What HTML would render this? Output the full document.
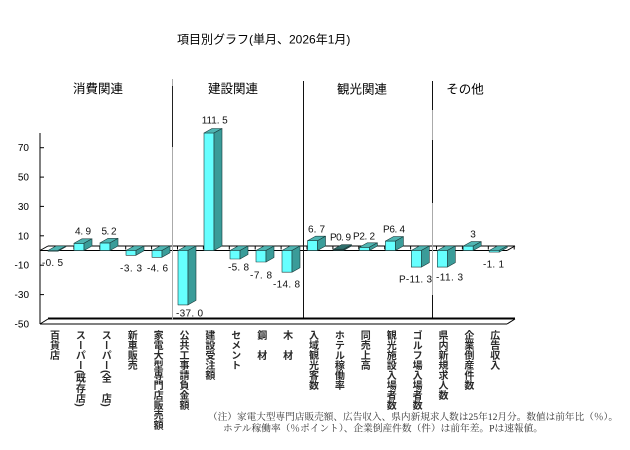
<!DOCTYPE html>
<html>
<head>
<meta charset="utf-8">
<style>
  html,body{margin:0;padding:0;background:#fff;}
  #wrap{position:relative;width:630px;height:450px;overflow:hidden;background:#fff;}
  svg{position:absolute;left:0;top:0;}
  .cat{position:absolute;top:330px;width:10px;writing-mode:vertical-rl;font-family:"Liberation Sans","Noto Sans CJK JP",sans-serif;font-size:10px;line-height:10px;color:#2a2a2a;font-weight:bold;white-space:nowrap;}
</style>
</head>
<body>
<div id="wrap">
<svg width="630" height="450" viewBox="0 0 630 450" xmlns="http://www.w3.org/2000/svg">
  <!-- title -->
  <text x="177" y="43.5" font-family="Liberation Sans, Noto Sans CJK JP, sans-serif" font-size="12" fill="#000">項目別グラフ(単月、2026年1月)</text>

  <!-- section headers -->
  <g font-family="Liberation Sans, Noto Sans CJK JP, sans-serif" font-size="12.5" fill="#000" text-anchor="middle">
    <text x="98" y="93">消費関連</text>
    <text x="233" y="93">建設関連</text>
    <text x="362" y="93.5">観光関連</text>
    <text x="465" y="93.5">その他</text>
  </g>

  <!-- floor -->
  <g stroke="#000" fill="none">
    <line x1="40" y1="324" x2="507" y2="324" stroke-width="1"/>
    <line x1="48" y1="318.5" x2="515" y2="318.5" stroke-width="2"/>
    <line x1="40" y1="324" x2="48" y2="319" stroke-width="1"/>
    <line x1="507" y1="324" x2="515" y2="319" stroke-width="1"/>
  </g>

  <!-- zero plane -->
  <g stroke="#000" fill="none" stroke-width="1">
    <line x1="40" y1="250.5" x2="507" y2="250.5"/>
    <line x1="48" y1="246" x2="515" y2="246"/>
    <line x1="40" y1="250.5" x2="48" y2="246"/>
    <line x1="507" y1="250.5" x2="515" y2="246"/>
  </g>
  <g stroke="#000" stroke-width="1">
    <line x1="73.9" y1="246" x2="73.9" y2="249.5"/>
    <line x1="99.8" y1="246" x2="99.8" y2="249.5"/>
    <line x1="125.7" y1="246" x2="125.7" y2="249.5"/>
    <line x1="151.6" y1="246" x2="151.6" y2="249.5"/>
    <line x1="177.5" y1="246" x2="177.5" y2="249.5"/>
    <line x1="203.4" y1="246" x2="203.4" y2="249.5"/>
    <line x1="229.3" y1="246" x2="229.3" y2="249.5"/>
    <line x1="255.2" y1="246" x2="255.2" y2="249.5"/>
    <line x1="281.1" y1="246" x2="281.1" y2="249.5"/>
    <line x1="307" y1="246" x2="307" y2="249.5"/>
    <line x1="332.9" y1="246" x2="332.9" y2="249.5"/>
    <line x1="358.8" y1="246" x2="358.8" y2="249.5"/>
    <line x1="384.7" y1="246" x2="384.7" y2="249.5"/>
    <line x1="410.6" y1="246" x2="410.6" y2="249.5"/>
    <line x1="436.5" y1="246" x2="436.5" y2="249.5"/>
    <line x1="462.4" y1="246" x2="462.4" y2="249.5"/>
    <line x1="488.3" y1="246" x2="488.3" y2="249.5"/>
    <line x1="514.2" y1="246" x2="514.2" y2="249.5"/>
  </g>

  <!-- y axis -->
  <g stroke="#000" stroke-width="1">
    <line x1="40" y1="133" x2="40" y2="324"/>
    <line x1="40" y1="147.7" x2="44" y2="147.7"/>
    <line x1="40" y1="177.1" x2="44" y2="177.1"/>
    <line x1="40" y1="206.4" x2="44" y2="206.4"/>
    <line x1="40" y1="235.8" x2="44" y2="235.8"/>
    <line x1="40" y1="265.2" x2="44" y2="265.2"/>
    <line x1="40" y1="294.6" x2="44" y2="294.6"/>
  </g>
  <g font-family="Liberation Sans, sans-serif" font-size="10" fill="#000" text-anchor="end">
    <text x="29" y="151.2">70</text>
    <text x="29" y="180.6">50</text>
    <text x="29" y="209.9">30</text>
    <text x="29" y="239.3">10</text>
    <text x="29" y="268.7">-10</text>
    <text x="29" y="298.1">-30</text>
    <text x="29" y="327.5">-50</text>
  </g>

  <!-- bars -->
  <g stroke="#1a3a3a" stroke-width="0.6" stroke-linejoin="round">
    <rect x="48" y="250.5" width="10" height="0.7" fill="#66ffff"/>
    <polygon points="48,250.5 56,246 66,246 58,250.5" fill="#4fb5b2"/>
    <polygon points="58,250.5 66,246 66,246.7 58,251.2" fill="#3a9c99"/>

    <rect x="74" y="243.3" width="10" height="7.2" fill="#66ffff"/>
    <polygon points="74,243.3 82,238.8 92,238.8 84,243.3" fill="#4fb5b2"/>
    <polygon points="84,243.3 92,238.8 92,246 84,250.5" fill="#3a9c99"/>

    <rect x="100" y="242.9" width="10" height="7.6" fill="#66ffff"/>
    <polygon points="100,242.9 108,238.4 118,238.4 110,242.9" fill="#4fb5b2"/>
    <polygon points="110,242.9 118,238.4 118,246 110,250.5" fill="#3a9c99"/>

    <rect x="126" y="250.5" width="10" height="4.8" fill="#66ffff"/>
    <polygon points="126,250.5 134,246 144,246 136,250.5" fill="#4fb5b2"/>
    <polygon points="136,250.5 144,246 144,250.8 136,255.3" fill="#3a9c99"/>

    <rect x="152" y="250.5" width="10" height="6.8" fill="#66ffff"/>
    <polygon points="152,250.5 160,246 170,246 162,250.5" fill="#4fb5b2"/>
    <polygon points="162,250.5 170,246 170,252.8 162,257.3" fill="#3a9c99"/>

    <rect x="178" y="250.5" width="10" height="54.4" fill="#66ffff"/>
    <polygon points="178,250.5 186,246 196,246 188,250.5" fill="#4fb5b2"/>
    <polygon points="188,250.5 196,246 196,300.4 188,304.9" fill="#3a9c99"/>

    <rect x="204" y="133" width="10" height="117.5" fill="#66ffff"/>
    <polygon points="204,133 212,128.5 222,128.5 214,133" fill="#4fb5b2"/>
    <polygon points="214,133 222,128.5 222,246 214,250.5" fill="#3a9c99"/>

    <rect x="230" y="250.5" width="10" height="8.5" fill="#66ffff"/>
    <polygon points="230,250.5 238,246 248,246 240,250.5" fill="#4fb5b2"/>
    <polygon points="240,250.5 248,246 248,254.5 240,259" fill="#3a9c99"/>

    <rect x="256" y="250.5" width="10" height="11.5" fill="#66ffff"/>
    <polygon points="256,250.5 264,246 274,246 266,250.5" fill="#4fb5b2"/>
    <polygon points="266,250.5 274,246 274,257.5 266,262" fill="#3a9c99"/>

    <rect x="282" y="250.5" width="10" height="21.7" fill="#66ffff"/>
    <polygon points="282,250.5 290,246 300,246 292,250.5" fill="#4fb5b2"/>
    <polygon points="292,250.5 300,246 300,267.7 292,272.2" fill="#3a9c99"/>

    <rect x="307.5" y="240.7" width="10" height="9.8" fill="#66ffff"/>
    <polygon points="307.5,240.7 315.5,236.2 325.5,236.2 317.5,240.7" fill="#4fb5b2"/>
    <polygon points="317.5,240.7 325.5,236.2 325.5,246 317.5,250.5" fill="#3a9c99"/>

    <rect x="333.5" y="249.2" width="10" height="1.3" fill="#2a4a4a"/>
    <polygon points="333.5,249.2 341.5,244.7 351.5,244.7 343.5,249.2" fill="#2f6f6c"/>
    <polygon points="343.5,249.2 351.5,244.7 351.5,246 343.5,250.5" fill="#2a4a4a"/>

    <rect x="359.4" y="247.3" width="10" height="3.2" fill="#66ffff"/>
    <polygon points="359.4,247.3 367.4,242.8 377.4,242.8 369.4,247.3" fill="#4fb5b2"/>
    <polygon points="369.4,247.3 377.4,242.8 377.4,246 369.4,250.5" fill="#3a9c99"/>

    <rect x="385.4" y="241.1" width="10" height="9.4" fill="#66ffff"/>
    <polygon points="385.4,241.1 393.4,236.6 403.4,236.6 395.4,241.1" fill="#4fb5b2"/>
    <polygon points="395.4,241.1 403.4,236.6 403.4,246 395.4,250.5" fill="#3a9c99"/>

    <rect x="411.3" y="250.5" width="10" height="16.6" fill="#66ffff"/>
    <polygon points="411.3,250.5 419.3,246 429.3,246 421.3,250.5" fill="#4fb5b2"/>
    <polygon points="421.3,250.5 429.3,246 429.3,262.6 421.3,267.1" fill="#3a9c99"/>

    <rect x="437.3" y="250.5" width="10" height="16.6" fill="#66ffff"/>
    <polygon points="437.3,250.5 445.3,246 455.3,246 447.3,250.5" fill="#4fb5b2"/>
    <polygon points="447.3,250.5 455.3,246 455.3,262.6 447.3,267.1" fill="#3a9c99"/>

    <rect x="463.2" y="246.1" width="10" height="4.4" fill="#66ffff"/>
    <polygon points="463.2,246.1 471.2,241.6 481.2,241.6 473.2,246.1" fill="#4fb5b2"/>
    <polygon points="473.2,246.1 481.2,241.6 481.2,246 473.2,250.5" fill="#3a9c99"/>

    <rect x="489.2" y="250.5" width="10" height="1.6" fill="#66ffff"/>
    <polygon points="489.2,250.5 497.2,246 507.2,246 499.2,250.5" fill="#4fb5b2"/>
    <polygon points="499.2,250.5 507.2,246 507.2,247.6 499.2,252.1" fill="#3a9c99"/>
  </g>

  <!-- separators -->
  <g stroke-width="1">
    <line x1="172.5" y1="79" x2="172.5" y2="86" stroke="#aaa"/>
    <line x1="172.5" y1="86" x2="172.5" y2="147" stroke="#222"/>
    <line x1="172.5" y1="147" x2="172.5" y2="320" stroke="#aaa"/>
    <line x1="303.5" y1="81" x2="303.5" y2="317.5" stroke="#111"/>
    <line x1="432.5" y1="81" x2="432.5" y2="110" stroke="#111"/>
    <line x1="432.5" y1="110" x2="432.5" y2="140" stroke="#aaa"/>
    <line x1="432.5" y1="140" x2="432.5" y2="203" stroke="#111"/>
    <line x1="432.5" y1="203" x2="432.5" y2="295" stroke="#aaa"/>
    <line x1="432.5" y1="295" x2="432.5" y2="317.5" stroke="#111"/>
  </g>

  <!-- value labels -->
  <g font-family="Liberation Sans, sans-serif" font-size="10" fill="#111" text-anchor="middle" lengthAdjust="spacingAndGlyphs">
    <text x="52.5" y="266.2" textLength="21">-0. 5</text>
    <text x="83" y="234.5" textLength="16">4. 9</text>
    <text x="109" y="234.5" textLength="15">5. 2</text>
    <text x="131" y="271.5" textLength="22">-3. 3</text>
    <text x="157.5" y="271.5" textLength="21">-4. 6</text>
    <text x="189.5" y="316.5" textLength="27">-37. 0</text>
    <text x="214.7" y="123.5" textLength="26">111. 5</text>
    <text x="238.5" y="270.5" textLength="21">-5. 8</text>
    <text x="261" y="278.5" textLength="22">-7. 8</text>
    <text x="286.5" y="287.5" textLength="27">-14. 8</text>
    <text x="316.5" y="232.5" textLength="17">6. 7</text>
    <text x="340.5" y="240.5" textLength="21">P0. 9</text>
    <text x="364" y="239.5" textLength="22">P2. 2</text>
    <text x="394" y="232.5" textLength="22">P6. 4</text>
    <text x="415.5" y="282.5" textLength="33">P-11. 3</text>
    <text x="449.5" y="280.5" textLength="27">-11. 3</text>
    <text x="473" y="237.5">3</text>
    <text x="493.5" y="267.5" textLength="21">-1. 1</text>
  </g>

  <!-- footnotes -->
  <g font-family="Liberation Serif, Noto Serif CJK SC, serif" font-size="9.5" fill="#333">
    <text x="208" y="420" textLength="410" lengthAdjust="spacingAndGlyphs">（注）家電大型専門店販売額、広告収入、県内新規求人数は25年12月分。数値は前年比（％）。</text>
    <text x="223" y="431.5" textLength="320" lengthAdjust="spacingAndGlyphs">ホテル稼働率（％ポイント）、企業倒産件数（件）は前年差。Pは速報値。</text>
  </g>
</svg>

<!-- category labels -->
<div class="cat" style="left:47.5px">百貨店</div>
<div class="cat" style="left:73.4px">スーパー(既存店)</div>
<div class="cat" style="left:99.3px">スーパー(全　店)</div>
<div class="cat" style="left:125.2px">新車販売</div>
<div class="cat" style="left:151.1px">家電大型専門店販売額</div>
<div class="cat" style="left:177px">公共工事請負金額</div>
<div class="cat" style="left:202.9px">建設受注額</div>
<div class="cat" style="left:228.8px">セメント</div>
<div class="cat" style="left:254.7px">鋼　材</div>
<div class="cat" style="left:280.6px">木　材</div>
<div class="cat" style="left:306.5px">入域観光客数</div>
<div class="cat" style="left:332.4px">ホテル稼働率</div>
<div class="cat" style="left:358.3px">同売上高</div>
<div class="cat" style="left:384.2px">観光施設入場者数</div>
<div class="cat" style="left:410.1px">ゴルフ場入場者数</div>
<div class="cat" style="left:436px">県内新規求人数</div>
<div class="cat" style="left:461.9px">企業倒産件数</div>
<div class="cat" style="left:487.8px">広告収入</div>
</div>
</body>
</html>
